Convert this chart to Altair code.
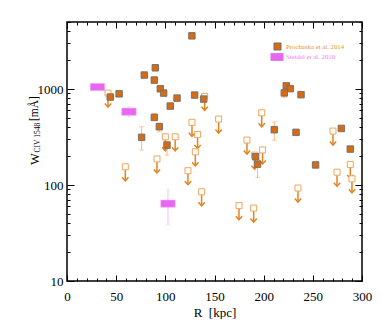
import altair as alt
import pandas as pd

# ---------------- data ----------------
# Prochaska et al. 2014 detections
det_R = [127, 44, 53, 78.6, 89.8, 88.8, 94.9, 98.3, 111.9, 105, 88.8, 93.9, 75.9, 101.7,
         129.8, 139, 223, 227, 221, 238, 210.8, 232.9, 279, 288.1, 191.8, 193.8, 252.8]
det_W = [3590, 826, 893, 1400, 1667, 1241, 1007, 908, 805, 665, 507, 405, 314, 261,
         866, 787, 1080, 1010, 912, 874, 377, 354, 389, 237, 197, 165, 162]
# error bars on detections
err_R = [89.8, 88.8, 88.8, 93.9, 75.9, 101.7, 221, 210.8, 193.8]
err_lo = [1550, 1140, 468, 358, 232, 205, 820, 293, 120]
err_hi = [1780, 1340, 560, 445, 405, 283, 978, 455, 213]
# Prochaska et al. 2014 upper limits
lim_R = [41.7, 140, 127.1, 154.2, 132.8, 100, 110, 130.5, 91.5, 59.3, 123, 136.9, 198,
         270.5, 183, 198.9, 190.8, 288.1, 274.6, 289.8, 234.9, 174.9, 189.8]
lim_W = [908, 840, 450, 487, 337, 318, 318, 222, 187, 155, 141, 85, 566,
         365, 294, 232, 205, 164, 136, 116, 93, 61, 57.5]
# Steidel et al. 2010
st_R = [31, 63, 102.7]
st_W = [1050, 581, 64]
st_lo = [1050, 512, 39]
st_hi = [1050, 656, 89]

x_major = [0, 50, 100, 150, 200, 250, 300]
x_minor = [v for v in range(0, 301, 10) if v % 50 != 0]
y_major = [10, 100, 1000]
y_minor = [m * d for d in (10, 100, 1000) for m in range(2, 10) if m * d <= 5000]

# ---------------- styling ----------------
W_PLOT, H_PLOT = 295, 259
FONT = "Liberation Serif"
C_FILL = "#d86a12"
C_EDGE = "#6e6e6e"
C_OPEN = "#f0a45c"
C_ARROW = "#e5821f"
C_ERR = "#f5b97e"
C_ST = "#e667f0"
C_ST_ERR = "#f9c8f9"

det = pd.DataFrame({"R": det_R, "W": det_W})
err = pd.DataFrame({"R": err_R, "lo": err_lo, "hi": err_hi})
lim = pd.DataFrame({"R": lim_R, "W": lim_W})
lim["stem_top"] = lim["W"] * 10 ** (-3 / 96)
lim["tip"] = lim["W"] * 10 ** (-14 / 96)
st = pd.DataFrame({"R": st_R, "W": st_W, "lo": st_lo, "hi": st_hi})

xs = alt.Scale(domain=[0, 300], nice=False, zero=False)
ys = alt.Scale(type="log", domain=[10, 5000], nice=False)

def X(field="R", **axis):
    return alt.X(f"{field}:Q", scale=xs, axis=(alt.Axis(**axis) if axis else None))

def Y(field="W", **axis):
    return alt.Y(f"{field}:Q", scale=ys, axis=(alt.Axis(**axis) if axis else None))

base_ticks = dict(labels=False, domain=False, grid=False, title=None,
                  tickColor="black", tickWidth=1)

# axis layers (invisible marks)
ax_labels = alt.Chart(det).mark_point(opacity=0).encode(
    x=X(values=x_major, ticks=False, tickSize=0, domain=False, grid=False, format="d",
        labelFont=FONT, labelFontSize=13, labelColor="black", labelPadding=9,
        labelFlush=False, title="R\u00a0\u00a0[kpc]", titleFont=FONT, titleFontSize=13,
        titleFontWeight="normal", titleColor="black", titlePadding=3),
    y=Y(values=y_major, ticks=False, tickSize=0, domain=False, grid=False, format="d",
        labelFont=FONT, labelFontSize=13, labelColor="black", labelPadding=4,
        title=None),
)
ax_bl_major = alt.Chart(det).mark_point(opacity=0).encode(
    x=X(orient="top", offset=-H_PLOT, values=x_major, tickSize=6, **base_ticks),
    y=Y(orient="right", offset=-W_PLOT, values=y_major, tickSize=7, **base_ticks),
)
ax_bl_minor = alt.Chart(det).mark_point(opacity=0).encode(
    x=X(orient="top", offset=-H_PLOT, values=x_minor, tickSize=3, **base_ticks),
    y=Y(orient="right", offset=-W_PLOT, values=y_minor, tickSize=3, **base_ticks),
)
ax_tr_major = alt.Chart(det).mark_point(opacity=0).encode(
    x=X(orient="bottom", offset=-H_PLOT, values=x_major, tickSize=6, **base_ticks),
    y=Y(orient="left", offset=-W_PLOT, values=y_major, tickSize=7, **base_ticks),
)
ax_tr_minor = alt.Chart(det).mark_point(opacity=0).encode(
    x=X(orient="bottom", offset=-H_PLOT, values=x_minor, tickSize=3, **base_ticks),
    y=Y(orient="left", offset=-W_PLOT, values=y_minor, tickSize=3, **base_ticks),
)

# upper limits: arrows + open squares
stems = alt.Chart(lim).mark_rule(color=C_ARROW, strokeWidth=1.5).encode(
    x=X(), y=Y("stem_top"), y2="tip:Q")
heads = alt.Chart(lim).mark_point(
    shape="M-1,-1.1L0,0L1,-1.1", filled=False, stroke=C_ARROW, strokeWidth=1.5,
    size=40, opacity=1).encode(x=X(), y=Y("tip"))
open_sq = alt.Chart(lim).mark_point(
    shape="square", filled=True, fill="white", stroke=C_OPEN, strokeWidth=1,
    size=36, opacity=1).encode(x=X(), y=Y())

# detections
errbars = alt.Chart(err).mark_rule(color=C_ERR, strokeWidth=1).encode(
    x=X(), y=Y("lo"), y2="hi:Q")
errcaps = alt.Chart(pd.concat([err.assign(v=err.lo), err.assign(v=err.hi)])).mark_tick(
    color=C_ERR, thickness=1, size=5, orient="horizontal").encode(x=X(), y=Y("v"))
filled = alt.Chart(det).mark_point(
    shape="square", filled=True, fill=C_FILL, stroke=C_EDGE, strokeWidth=0.9,
    size=42, opacity=1).encode(x=X(), y=Y())

# Steidel
st_err = alt.Chart(st).mark_rule(color=C_ST_ERR, strokeWidth=1.2).encode(
    x=X(), y=Y("lo"), y2="hi:Q")
st_caps = alt.Chart(pd.concat([st.assign(v=st.lo), st.assign(v=st.hi)])).mark_tick(
    color=C_ST_ERR, thickness=1, size=4, orient="horizontal").encode(x=X(), y=Y("v"))
st_rect = alt.Chart(st).mark_point(
    shape="M-1,-0.5H1V0.5H-1Z", filled=True, fill=C_ST, stroke="#f7b0f7",
    strokeWidth=0.6, size=210, opacity=1).encode(x=X(), y=Y())

# legend
one = pd.DataFrame({"t": ["x"]})
leg_sq = alt.Chart(one).mark_point(
    shape="square", filled=True, fill=C_FILL, stroke=C_EDGE, strokeWidth=0.9,
    size=50, opacity=1).encode(x=alt.value(210.5), y=alt.value(24.5))
leg_st = alt.Chart(one).mark_point(
    shape="M-1,-0.6H1V0.6H-1Z", filled=True, fill=C_ST, size=169,
    opacity=1).encode(x=alt.value(210), y=alt.value(35))
leg_t1 = alt.Chart(pd.DataFrame({"t": ["Prochaska et al. 2014"]})).mark_text(
    font=FONT, fontSize=6.8, color="#e8913c", align="left", baseline="middle").encode(
    x=alt.value(219), y=alt.value(24.5), text="t:N")
leg_t2 = alt.Chart(pd.DataFrame({"t": ["Steidel et al. 2010"]})).mark_text(
    font=FONT, fontSize=6.8, color="#f07cf0", align="left", baseline="middle").encode(
    x=alt.value(219), y=alt.value(35), text="t:N")

# y title with subscript
yt1 = alt.Chart(pd.DataFrame({"t": ["W"]})).mark_text(
    font=FONT, fontSize=12.5, color="black", align="left", baseline="middle",
    angle=270).encode(x=alt.value(-32), y=alt.value(143), text="t:N")
yt2 = alt.Chart(pd.DataFrame({"t": ["CIV 1548"]})).mark_text(
    font=FONT, fontSize=7.5, color="black", align="left", baseline="middle",
    angle=270).encode(x=alt.value(-29), y=alt.value(130.5), text="t:N")
yt3 = alt.Chart(pd.DataFrame({"t": ["[mÅ]"]})).mark_text(
    font=FONT, fontSize=11.5, color="black", align="left", baseline="middle",
    angle=270).encode(x=alt.value(-32), y=alt.value(99), text="t:N")

chart = alt.layer(
    ax_labels, ax_bl_major, ax_bl_minor, ax_tr_major, ax_tr_minor,
    stems, heads, open_sq, errbars, errcaps, filled, st_err, st_caps, st_rect,
    leg_sq, leg_st, leg_t1, leg_t2, yt1, yt2, yt3,
).resolve_axis(x="independent", y="independent").properties(
    width=W_PLOT, height=H_PLOT,
    autosize=alt.AutoSizeParams(type="none"),
    padding={"left": 59, "top": 14, "right": 12, "bottom": 38},
    background="white",
).configure_view(stroke="black", strokeWidth=1.5)

chart.save("out.html", embed_options={"renderer": "svg", "actions": False})
